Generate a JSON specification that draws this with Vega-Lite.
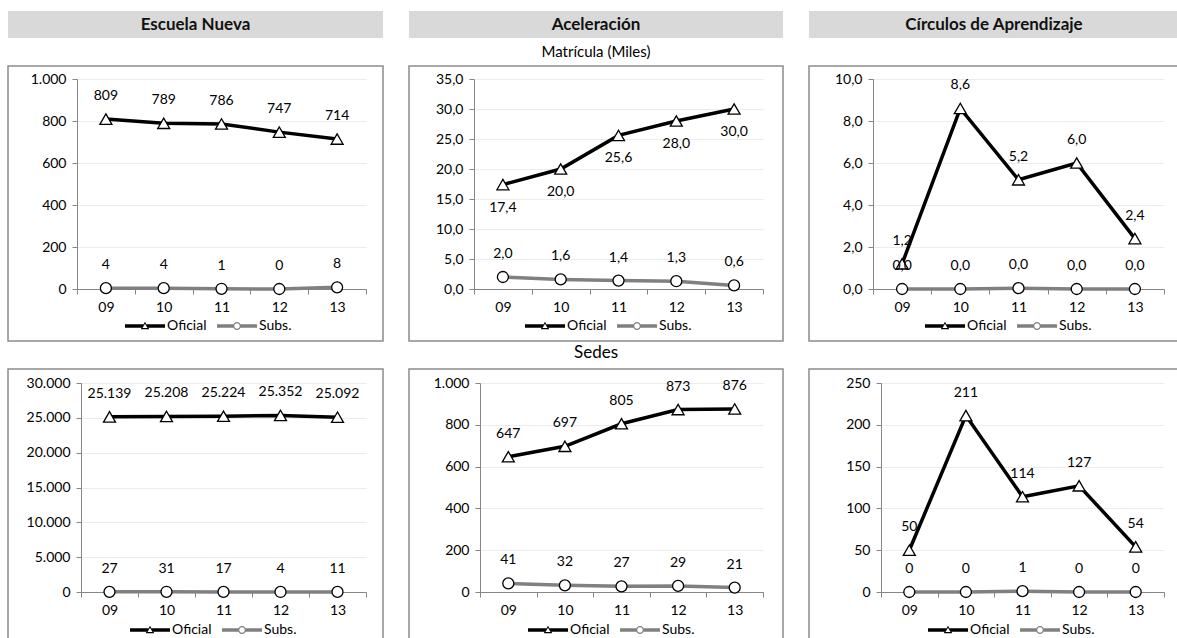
{
  "$schema": "https://vega.github.io/schema/vega-lite/v6.json",
  "padding": {"left": 7, "top": 11, "right": 0, "bottom": 0},
  "background": "#ffffff",
  "datasets": {
    "d": [
      {"p": "EN_M", "s": "Oficial", "a": "09", "v": 809},
      {"p": "EN_M", "s": "Oficial", "a": "10", "v": 789},
      {"p": "EN_M", "s": "Oficial", "a": "11", "v": 786},
      {"p": "EN_M", "s": "Oficial", "a": "12", "v": 747},
      {"p": "EN_M", "s": "Oficial", "a": "13", "v": 714},
      {"p": "EN_M", "s": "Subs.", "a": "09", "v": 4},
      {"p": "EN_M", "s": "Subs.", "a": "10", "v": 4},
      {"p": "EN_M", "s": "Subs.", "a": "11", "v": 1},
      {"p": "EN_M", "s": "Subs.", "a": "12", "v": 0},
      {"p": "EN_M", "s": "Subs.", "a": "13", "v": 8},
      {"p": "AC_M", "s": "Oficial", "a": "09", "v": 17.4},
      {"p": "AC_M", "s": "Oficial", "a": "10", "v": 20.0},
      {"p": "AC_M", "s": "Oficial", "a": "11", "v": 25.6},
      {"p": "AC_M", "s": "Oficial", "a": "12", "v": 28.0},
      {"p": "AC_M", "s": "Oficial", "a": "13", "v": 30.0},
      {"p": "AC_M", "s": "Subs.", "a": "09", "v": 2.0},
      {"p": "AC_M", "s": "Subs.", "a": "10", "v": 1.6},
      {"p": "AC_M", "s": "Subs.", "a": "11", "v": 1.4},
      {"p": "AC_M", "s": "Subs.", "a": "12", "v": 1.3},
      {"p": "AC_M", "s": "Subs.", "a": "13", "v": 0.6},
      {"p": "CA_M", "s": "Oficial", "a": "09", "v": 1.2},
      {"p": "CA_M", "s": "Oficial", "a": "10", "v": 8.6},
      {"p": "CA_M", "s": "Oficial", "a": "11", "v": 5.2},
      {"p": "CA_M", "s": "Oficial", "a": "12", "v": 6.0},
      {"p": "CA_M", "s": "Oficial", "a": "13", "v": 2.4},
      {"p": "CA_M", "s": "Subs.", "a": "09", "v": 0.0},
      {"p": "CA_M", "s": "Subs.", "a": "10", "v": 0.0},
      {"p": "CA_M", "s": "Subs.", "a": "11", "v": 0.04},
      {"p": "CA_M", "s": "Subs.", "a": "12", "v": 0.0},
      {"p": "CA_M", "s": "Subs.", "a": "13", "v": 0.0},
      {"p": "EN_S", "s": "Oficial", "a": "09", "v": 25139},
      {"p": "EN_S", "s": "Oficial", "a": "10", "v": 25208},
      {"p": "EN_S", "s": "Oficial", "a": "11", "v": 25224},
      {"p": "EN_S", "s": "Oficial", "a": "12", "v": 25352},
      {"p": "EN_S", "s": "Oficial", "a": "13", "v": 25092},
      {"p": "EN_S", "s": "Subs.", "a": "09", "v": 27},
      {"p": "EN_S", "s": "Subs.", "a": "10", "v": 31},
      {"p": "EN_S", "s": "Subs.", "a": "11", "v": 17},
      {"p": "EN_S", "s": "Subs.", "a": "12", "v": 4},
      {"p": "EN_S", "s": "Subs.", "a": "13", "v": 11},
      {"p": "AC_S", "s": "Oficial", "a": "09", "v": 647},
      {"p": "AC_S", "s": "Oficial", "a": "10", "v": 697},
      {"p": "AC_S", "s": "Oficial", "a": "11", "v": 805},
      {"p": "AC_S", "s": "Oficial", "a": "12", "v": 873},
      {"p": "AC_S", "s": "Oficial", "a": "13", "v": 876},
      {"p": "AC_S", "s": "Subs.", "a": "09", "v": 41},
      {"p": "AC_S", "s": "Subs.", "a": "10", "v": 32},
      {"p": "AC_S", "s": "Subs.", "a": "11", "v": 27},
      {"p": "AC_S", "s": "Subs.", "a": "12", "v": 29},
      {"p": "AC_S", "s": "Subs.", "a": "13", "v": 21},
      {"p": "CA_S", "s": "Oficial", "a": "09", "v": 50},
      {"p": "CA_S", "s": "Oficial", "a": "10", "v": 211},
      {"p": "CA_S", "s": "Oficial", "a": "11", "v": 114},
      {"p": "CA_S", "s": "Oficial", "a": "12", "v": 127},
      {"p": "CA_S", "s": "Oficial", "a": "13", "v": 54},
      {"p": "CA_S", "s": "Subs.", "a": "09", "v": 0},
      {"p": "CA_S", "s": "Subs.", "a": "10", "v": 0},
      {"p": "CA_S", "s": "Subs.", "a": "11", "v": 1},
      {"p": "CA_S", "s": "Subs.", "a": "12", "v": 0},
      {"p": "CA_S", "s": "Subs.", "a": "13", "v": 0}
    ]
  },
  "columns": 3,
  "bounds": "flush",
  "align": "each",
  "spacing": {"row": 28, "column": 26},
  "resolve": {"scale": {"fill": "independent", "shape": "independent"}, "legend": {"fill": "independent", "shape": "independent"}},
  "concat": [
    {
      "width": 375, "height": 27,
      "view": {"fill": "#d9d9d9", "stroke": null},
      "data": {"values": [{"t": "Escuela Nueva"}]},
      "mark": {"type": "text", "font": "Lato", "fontSize": 17, "fontWeight": "bold", "color": "#111111"},
      "encoding": {"text": {"field": "t"}}
    },
    {
      "width": 374, "height": 27,
      "view": {"fill": "#d9d9d9", "stroke": null},
      "data": {"values": [{"t": "Aceleración"}]},
      "mark": {"type": "text", "font": "Lato", "fontSize": 17, "fontWeight": "bold", "color": "#111111"},
      "encoding": {"text": {"field": "t"}}
    },
    {
      "width": 370, "height": 27,
      "view": {"fill": "#d9d9d9", "stroke": null},
      "data": {"values": [{"t": "Círculos de Aprendizaje"}]},
      "mark": {"type": "text", "font": "Lato", "fontSize": 17, "fontWeight": "bold", "color": "#111111"},
      "encoding": {"text": {"field": "t"}}
    },
    {
      "width": 375, "height": 275,
      "data": {"name": "d"},
      "transform": [{"filter": "datum.p == 'EN_M'"}],
      "encoding": {
        "x": {"field": "a", "type": "ordinal", "bandPosition": 0.5, "scale": {"type": "band", "range": [69, 358], "paddingInner": 0, "paddingOuter": 0}, "axis": {"title": null, "offset": -52, "tickBand": "extent", "labelAngle": 0, "grid": false}},
        "y": {"field": "v", "type": "quantitative", "scale": {"domain": [0, 1000], "range": [223, 13], "nice": false, "zero": false}, "axis": {"title": null, "offset": -69, "values": [0, 200, 400, 600, 800, 1000], "format": ",.0f", "grid": true}}
      },
      "layer": [
        {"transform": [{"filter": "datum.s == 'Subs.'"}], "mark": {"type": "line", "stroke": "#808080", "strokeWidth": 3.5}},
        {"transform": [{"filter": "datum.s == 'Oficial'"}], "mark": {"type": "line", "stroke": "#000000", "strokeWidth": 3.5}},
        {"transform": [{"filter": "datum.s == 'Subs.'"}], "mark": {"type": "point", "shape": "circle", "size": 121, "filled": true, "fill": "#ffffff", "stroke": "#000000", "strokeWidth": 1.3, "opacity": 1}},
        {"transform": [{"filter": "datum.s == 'Oficial'"}], "mark": {"type": "point", "shape": "triangle-up", "size": 144, "filled": true, "fill": "#ffffff", "stroke": "#000000", "strokeWidth": 1.3, "opacity": 1}},
        {"transform": [{"filter": "datum.s == 'Subs.'"}], "mark": {"type": "text", "dy": -23, "font": "Lato", "fontSize": 14, "color": "#000000"}, "encoding": {"text": {"field": "v", "type": "quantitative", "format": ",.0f"}}},
        {"transform": [{"filter": "datum.s == 'Oficial'"}], "mark": {"type": "text", "dy": -23, "font": "Lato", "fontSize": 14, "color": "#000000"}, "encoding": {"text": {"field": "v", "type": "quantitative", "format": ",.0f"}}},
        {"transform": [{"filter": "false"}], "mark": {"type": "point", "filled": true, "opacity": 1, "strokeWidth": 0},
         "encoding": {
           "fill": {"field": "s", "type": "nominal", "scale": {"domain": ["Oficial", "Subs."], "range": ["#000000", "#808080"]}, "legend": {"orient": "none", "legendX": 130, "legendY": 253, "direction": "horizontal", "title": null}},
           "shape": {"field": "s", "type": "nominal", "scale": {"domain": ["Oficial", "Subs."], "range": ["M-4,-0.35L-0.3,-0.35L-0.68,0.35L-4,0.35ZM0.3,-0.35L4,-0.35L4,0.35L0.68,0.35ZM0,-0.85L0.85,0.65L-0.85,0.65ZM0,-0.45L-0.5,0.42L0.5,0.42Z", "M-4,-0.35L-0.72,-0.35L-0.72,0.35L-4,0.35ZM0.72,-0.35L4,-0.35L4,0.35L0.72,0.35ZM0.8,0A0.8,0.8,0,1,1,-0.8,0A0.8,0.8,0,1,1,0.8,0ZM0.55,0A0.55,0.55,0,1,0,-0.55,0A0.55,0.55,0,1,0,0.55,0Z"]}, "legend": {"orient": "none", "legendX": 130, "legendY": 253, "direction": "horizontal", "title": null}}
         }}
      ]
    },
    {
      "width": 374, "height": 275,
      "title": {"text": "Matrícula (Miles)", "fontSize": 15, "offset": 6},
      "data": {"name": "d"},
      "transform": [{"filter": "datum.p == 'AC_M'"}],
      "encoding": {
        "x": {"field": "a", "type": "ordinal", "bandPosition": 0.5, "scale": {"type": "band", "range": [65, 354], "paddingInner": 0, "paddingOuter": 0}, "axis": {"title": null, "offset": -52, "tickBand": "extent", "labelAngle": 0, "grid": false}},
        "y": {"field": "v", "type": "quantitative", "scale": {"domain": [0, 35], "range": [223, 13], "nice": false, "zero": false}, "axis": {"title": null, "offset": -65, "values": [0, 5, 10, 15, 20, 25, 30, 35], "format": ".1f", "grid": true}}
      },
      "layer": [
        {"transform": [{"filter": "datum.s == 'Subs.'"}], "mark": {"type": "line", "stroke": "#808080", "strokeWidth": 3.5}},
        {"transform": [{"filter": "datum.s == 'Oficial'"}], "mark": {"type": "line", "stroke": "#000000", "strokeWidth": 3.5}},
        {"transform": [{"filter": "datum.s == 'Subs.'"}], "mark": {"type": "point", "shape": "circle", "size": 121, "filled": true, "fill": "#ffffff", "stroke": "#000000", "strokeWidth": 1.3, "opacity": 1}},
        {"transform": [{"filter": "datum.s == 'Oficial'"}], "mark": {"type": "point", "shape": "triangle-up", "size": 144, "filled": true, "fill": "#ffffff", "stroke": "#000000", "strokeWidth": 1.3, "opacity": 1}},
        {"transform": [{"filter": "datum.s == 'Subs.'"}], "mark": {"type": "text", "dy": -23, "font": "Lato", "fontSize": 14, "color": "#000000"}, "encoding": {"text": {"field": "v", "type": "quantitative", "format": ".1f"}}},
        {"transform": [{"filter": "datum.s == 'Oficial'"}], "mark": {"type": "text", "dy": 23, "font": "Lato", "fontSize": 14, "color": "#000000"}, "encoding": {"text": {"field": "v", "type": "quantitative", "format": ".1f"}}},
        {"transform": [{"filter": "false"}], "mark": {"type": "point", "filled": true, "opacity": 1, "strokeWidth": 0},
         "encoding": {
           "fill": {"field": "s", "type": "nominal", "scale": {"domain": ["Oficial", "Subs."], "range": ["#000000", "#808080"]}, "legend": {"orient": "none", "legendX": 129, "legendY": 253, "direction": "horizontal", "title": null}},
           "shape": {"field": "s", "type": "nominal", "scale": {"domain": ["Oficial", "Subs."], "range": ["M-4,-0.35L-0.3,-0.35L-0.68,0.35L-4,0.35ZM0.3,-0.35L4,-0.35L4,0.35L0.68,0.35ZM0,-0.85L0.85,0.65L-0.85,0.65ZM0,-0.45L-0.5,0.42L0.5,0.42Z", "M-4,-0.35L-0.72,-0.35L-0.72,0.35L-4,0.35ZM0.72,-0.35L4,-0.35L4,0.35L0.72,0.35ZM0.8,0A0.8,0.8,0,1,1,-0.8,0A0.8,0.8,0,1,1,0.8,0ZM0.55,0A0.55,0.55,0,1,0,-0.55,0A0.55,0.55,0,1,0,0.55,0Z"]}, "legend": {"orient": "none", "legendX": 129, "legendY": 253, "direction": "horizontal", "title": null}}
         }}
      ]
    },
    {
      "width": 370, "height": 275,
      "data": {"name": "d"},
      "transform": [{"filter": "datum.p == 'CA_M'"}],
      "encoding": {
        "x": {"field": "a", "type": "ordinal", "bandPosition": 0.5, "scale": {"type": "band", "range": [64, 355], "paddingInner": 0, "paddingOuter": 0}, "axis": {"title": null, "offset": -52, "tickBand": "extent", "labelAngle": 0, "grid": false}},
        "y": {"field": "v", "type": "quantitative", "scale": {"domain": [0, 10], "range": [223, 13], "nice": false, "zero": false}, "axis": {"title": null, "offset": -64, "values": [0, 2, 4, 6, 8, 10], "format": ".1f", "grid": true}}
      },
      "layer": [
        {"transform": [{"filter": "datum.s == 'Subs.'"}], "mark": {"type": "line", "stroke": "#808080", "strokeWidth": 3.5}},
        {"transform": [{"filter": "datum.s == 'Oficial'"}], "mark": {"type": "line", "stroke": "#000000", "strokeWidth": 3.5}},
        {"transform": [{"filter": "datum.s == 'Subs.'"}], "mark": {"type": "point", "shape": "circle", "size": 121, "filled": true, "fill": "#ffffff", "stroke": "#000000", "strokeWidth": 1.3, "opacity": 1}},
        {"transform": [{"filter": "datum.s == 'Oficial'"}], "mark": {"type": "point", "shape": "triangle-up", "size": 144, "filled": true, "fill": "#ffffff", "stroke": "#000000", "strokeWidth": 1.3, "opacity": 1}},
        {"transform": [{"filter": "datum.s == 'Subs.'"}], "mark": {"type": "text", "dy": -23, "font": "Lato", "fontSize": 14, "color": "#000000"}, "encoding": {"text": {"field": "v", "type": "quantitative", "format": ".1f"}}},
        {"transform": [{"filter": "datum.s == 'Oficial'"}], "mark": {"type": "text", "dy": -23, "font": "Lato", "fontSize": 14, "color": "#000000"}, "encoding": {"text": {"field": "v", "type": "quantitative", "format": ".1f"}}},
        {"transform": [{"filter": "false"}], "mark": {"type": "point", "filled": true, "opacity": 1, "strokeWidth": 0},
         "encoding": {
           "fill": {"field": "s", "type": "nominal", "scale": {"domain": ["Oficial", "Subs."], "range": ["#000000", "#808080"]}, "legend": {"orient": "none", "legendX": 129, "legendY": 253, "direction": "horizontal", "title": null}},
           "shape": {"field": "s", "type": "nominal", "scale": {"domain": ["Oficial", "Subs."], "range": ["M-4,-0.35L-0.3,-0.35L-0.68,0.35L-4,0.35ZM0.3,-0.35L4,-0.35L4,0.35L0.68,0.35ZM0,-0.85L0.85,0.65L-0.85,0.65ZM0,-0.45L-0.5,0.42L0.5,0.42Z", "M-4,-0.35L-0.72,-0.35L-0.72,0.35L-4,0.35ZM0.72,-0.35L4,-0.35L4,0.35L0.72,0.35ZM0.8,0A0.8,0.8,0,1,1,-0.8,0A0.8,0.8,0,1,1,0.8,0ZM0.55,0A0.55,0.55,0,1,0,-0.55,0A0.55,0.55,0,1,0,0.55,0Z"]}, "legend": {"orient": "none", "legendX": 129, "legendY": 253, "direction": "horizontal", "title": null}}
         }}
      ]
    },
    {
      "width": 375, "height": 275,
      "data": {"name": "d"},
      "transform": [{"filter": "datum.p == 'EN_S'"}],
      "encoding": {
        "x": {"field": "a", "type": "ordinal", "bandPosition": 0.5, "scale": {"type": "band", "range": [73, 358], "paddingInner": 0, "paddingOuter": 0}, "axis": {"title": null, "offset": -52, "tickBand": "extent", "labelAngle": 0, "grid": false}},
        "y": {"field": "v", "type": "quantitative", "scale": {"domain": [0, 30000], "range": [223, 14], "nice": false, "zero": false}, "axis": {"title": null, "offset": -73, "values": [0, 5000, 10000, 15000, 20000, 25000, 30000], "format": ",.0f", "grid": true}}
      },
      "layer": [
        {"transform": [{"filter": "datum.s == 'Subs.'"}], "mark": {"type": "line", "stroke": "#808080", "strokeWidth": 3.5}},
        {"transform": [{"filter": "datum.s == 'Oficial'"}], "mark": {"type": "line", "stroke": "#000000", "strokeWidth": 3.5}},
        {"transform": [{"filter": "datum.s == 'Subs.'"}], "mark": {"type": "point", "shape": "circle", "size": 121, "filled": true, "fill": "#ffffff", "stroke": "#000000", "strokeWidth": 1.3, "opacity": 1}},
        {"transform": [{"filter": "datum.s == 'Oficial'"}], "mark": {"type": "point", "shape": "triangle-up", "size": 144, "filled": true, "fill": "#ffffff", "stroke": "#000000", "strokeWidth": 1.3, "opacity": 1}},
        {"transform": [{"filter": "datum.s == 'Subs.'"}], "mark": {"type": "text", "dy": -23, "font": "Lato", "fontSize": 14, "color": "#000000"}, "encoding": {"text": {"field": "v", "type": "quantitative", "format": ",.0f"}}},
        {"transform": [{"filter": "datum.s == 'Oficial'"}], "mark": {"type": "text", "dy": -23, "font": "Lato", "fontSize": 14, "color": "#000000"}, "encoding": {"text": {"field": "v", "type": "quantitative", "format": ",.0f"}}},
        {"transform": [{"filter": "false"}], "mark": {"type": "point", "filled": true, "opacity": 1, "strokeWidth": 0},
         "encoding": {
           "fill": {"field": "s", "type": "nominal", "scale": {"domain": ["Oficial", "Subs."], "range": ["#000000", "#808080"]}, "legend": {"orient": "none", "legendX": 135, "legendY": 254, "direction": "horizontal", "title": null}},
           "shape": {"field": "s", "type": "nominal", "scale": {"domain": ["Oficial", "Subs."], "range": ["M-4,-0.35L-0.3,-0.35L-0.68,0.35L-4,0.35ZM0.3,-0.35L4,-0.35L4,0.35L0.68,0.35ZM0,-0.85L0.85,0.65L-0.85,0.65ZM0,-0.45L-0.5,0.42L0.5,0.42Z", "M-4,-0.35L-0.72,-0.35L-0.72,0.35L-4,0.35ZM0.72,-0.35L4,-0.35L4,0.35L0.72,0.35ZM0.8,0A0.8,0.8,0,1,1,-0.8,0A0.8,0.8,0,1,1,0.8,0ZM0.55,0A0.55,0.55,0,1,0,-0.55,0A0.55,0.55,0,1,0,0.55,0Z"]}, "legend": {"orient": "none", "legendX": 135, "legendY": 254, "direction": "horizontal", "title": null}}
         }}
      ]
    },
    {
      "width": 374, "height": 275,
      "title": {"text": "Sedes", "fontSize": 17, "offset": 7},
      "data": {"name": "d"},
      "transform": [{"filter": "datum.p == 'AC_S'"}],
      "encoding": {
        "x": {"field": "a", "type": "ordinal", "bandPosition": 0.5, "scale": {"type": "band", "range": [71, 354], "paddingInner": 0, "paddingOuter": 0}, "axis": {"title": null, "offset": -52, "tickBand": "extent", "labelAngle": 0, "grid": false}},
        "y": {"field": "v", "type": "quantitative", "scale": {"domain": [0, 1000], "range": [223, 14], "nice": false, "zero": false}, "axis": {"title": null, "offset": -71, "values": [0, 200, 400, 600, 800, 1000], "format": ",.0f", "grid": true}}
      },
      "layer": [
        {"transform": [{"filter": "datum.s == 'Subs.'"}], "mark": {"type": "line", "stroke": "#808080", "strokeWidth": 3.5}},
        {"transform": [{"filter": "datum.s == 'Oficial'"}], "mark": {"type": "line", "stroke": "#000000", "strokeWidth": 3.5}},
        {"transform": [{"filter": "datum.s == 'Subs.'"}], "mark": {"type": "point", "shape": "circle", "size": 121, "filled": true, "fill": "#ffffff", "stroke": "#000000", "strokeWidth": 1.3, "opacity": 1}},
        {"transform": [{"filter": "datum.s == 'Oficial'"}], "mark": {"type": "point", "shape": "triangle-up", "size": 144, "filled": true, "fill": "#ffffff", "stroke": "#000000", "strokeWidth": 1.3, "opacity": 1}},
        {"transform": [{"filter": "datum.s == 'Subs.'"}], "mark": {"type": "text", "dy": -23, "font": "Lato", "fontSize": 14, "color": "#000000"}, "encoding": {"text": {"field": "v", "type": "quantitative", "format": ",.0f"}}},
        {"transform": [{"filter": "datum.s == 'Oficial'"}], "mark": {"type": "text", "dy": -23, "font": "Lato", "fontSize": 14, "color": "#000000"}, "encoding": {"text": {"field": "v", "type": "quantitative", "format": ",.0f"}}},
        {"transform": [{"filter": "false"}], "mark": {"type": "point", "filled": true, "opacity": 1, "strokeWidth": 0},
         "encoding": {
           "fill": {"field": "s", "type": "nominal", "scale": {"domain": ["Oficial", "Subs."], "range": ["#000000", "#808080"]}, "legend": {"orient": "none", "legendX": 132, "legendY": 254, "direction": "horizontal", "title": null}},
           "shape": {"field": "s", "type": "nominal", "scale": {"domain": ["Oficial", "Subs."], "range": ["M-4,-0.35L-0.3,-0.35L-0.68,0.35L-4,0.35ZM0.3,-0.35L4,-0.35L4,0.35L0.68,0.35ZM0,-0.85L0.85,0.65L-0.85,0.65ZM0,-0.45L-0.5,0.42L0.5,0.42Z", "M-4,-0.35L-0.72,-0.35L-0.72,0.35L-4,0.35ZM0.72,-0.35L4,-0.35L4,0.35L0.72,0.35ZM0.8,0A0.8,0.8,0,1,1,-0.8,0A0.8,0.8,0,1,1,0.8,0ZM0.55,0A0.55,0.55,0,1,0,-0.55,0A0.55,0.55,0,1,0,0.55,0Z"]}, "legend": {"orient": "none", "legendX": 132, "legendY": 254, "direction": "horizontal", "title": null}}
         }}
      ]
    },
    {
      "width": 370, "height": 275,
      "data": {"name": "d"},
      "transform": [{"filter": "datum.p == 'CA_S'"}],
      "encoding": {
        "x": {"field": "a", "type": "ordinal", "bandPosition": 0.5, "scale": {"type": "band", "range": [72, 355], "paddingInner": 0, "paddingOuter": 0}, "axis": {"title": null, "offset": -52, "tickBand": "extent", "labelAngle": 0, "grid": false}},
        "y": {"field": "v", "type": "quantitative", "scale": {"domain": [0, 250], "range": [223, 14], "nice": false, "zero": false}, "axis": {"title": null, "offset": -72, "values": [0, 50, 100, 150, 200, 250], "format": ",.0f", "grid": true}}
      },
      "layer": [
        {"transform": [{"filter": "datum.s == 'Subs.'"}], "mark": {"type": "line", "stroke": "#808080", "strokeWidth": 3.5}},
        {"transform": [{"filter": "datum.s == 'Oficial'"}], "mark": {"type": "line", "stroke": "#000000", "strokeWidth": 3.5}},
        {"transform": [{"filter": "datum.s == 'Subs.'"}], "mark": {"type": "point", "shape": "circle", "size": 121, "filled": true, "fill": "#ffffff", "stroke": "#000000", "strokeWidth": 1.3, "opacity": 1}},
        {"transform": [{"filter": "datum.s == 'Oficial'"}], "mark": {"type": "point", "shape": "triangle-up", "size": 144, "filled": true, "fill": "#ffffff", "stroke": "#000000", "strokeWidth": 1.3, "opacity": 1}},
        {"transform": [{"filter": "datum.s == 'Subs.'"}], "mark": {"type": "text", "dy": -23, "font": "Lato", "fontSize": 14, "color": "#000000"}, "encoding": {"text": {"field": "v", "type": "quantitative", "format": ",.0f"}}},
        {"transform": [{"filter": "datum.s == 'Oficial'"}], "mark": {"type": "text", "dy": -23, "font": "Lato", "fontSize": 14, "color": "#000000"}, "encoding": {"text": {"field": "v", "type": "quantitative", "format": ",.0f"}}},
        {"transform": [{"filter": "false"}], "mark": {"type": "point", "filled": true, "opacity": 1, "strokeWidth": 0},
         "encoding": {
           "fill": {"field": "s", "type": "nominal", "scale": {"domain": ["Oficial", "Subs."], "range": ["#000000", "#808080"]}, "legend": {"orient": "none", "legendX": 132, "legendY": 254, "direction": "horizontal", "title": null}},
           "shape": {"field": "s", "type": "nominal", "scale": {"domain": ["Oficial", "Subs."], "range": ["M-4,-0.35L-0.3,-0.35L-0.68,0.35L-4,0.35ZM0.3,-0.35L4,-0.35L4,0.35L0.68,0.35ZM0,-0.85L0.85,0.65L-0.85,0.65ZM0,-0.45L-0.5,0.42L0.5,0.42Z", "M-4,-0.35L-0.72,-0.35L-0.72,0.35L-4,0.35ZM0.72,-0.35L4,-0.35L4,0.35L0.72,0.35ZM0.8,0A0.8,0.8,0,1,1,-0.8,0A0.8,0.8,0,1,1,0.8,0ZM0.55,0A0.55,0.55,0,1,0,-0.55,0A0.55,0.55,0,1,0,0.55,0Z"]}, "legend": {"orient": "none", "legendX": 132, "legendY": 254, "direction": "horizontal", "title": null}}
         }}
      ]
    }
  ],
  "config": {
    "font": "Lato",
    "locale": {"number": {"decimal": ",", "thousands": ".", "grouping": [3], "currency": ["$", ""]}},
    "view": {"stroke": "#8c8c8c", "strokeWidth": 1.5},
    "axis": {"domainColor": "#868686", "domainWidth": 1, "tickColor": "#868686", "tickSize": 5, "labelFont": "Lato", "labelFontSize": 14, "labelColor": "#000000", "gridColor": "#ececec", "gridWidth": 1, "labelPadding": 6},
    "legend": {"labelFont": "Lato", "labelFontSize": 14, "labelColor": "#000000", "symbolSize": 100, "labelOffset": 15, "columnPadding": 10, "symbolStrokeWidth": 0, "padding": 0},
    "title": {"font": "Lato", "fontWeight": "normal", "color": "#000000", "anchor": "middle"}
  }
}
